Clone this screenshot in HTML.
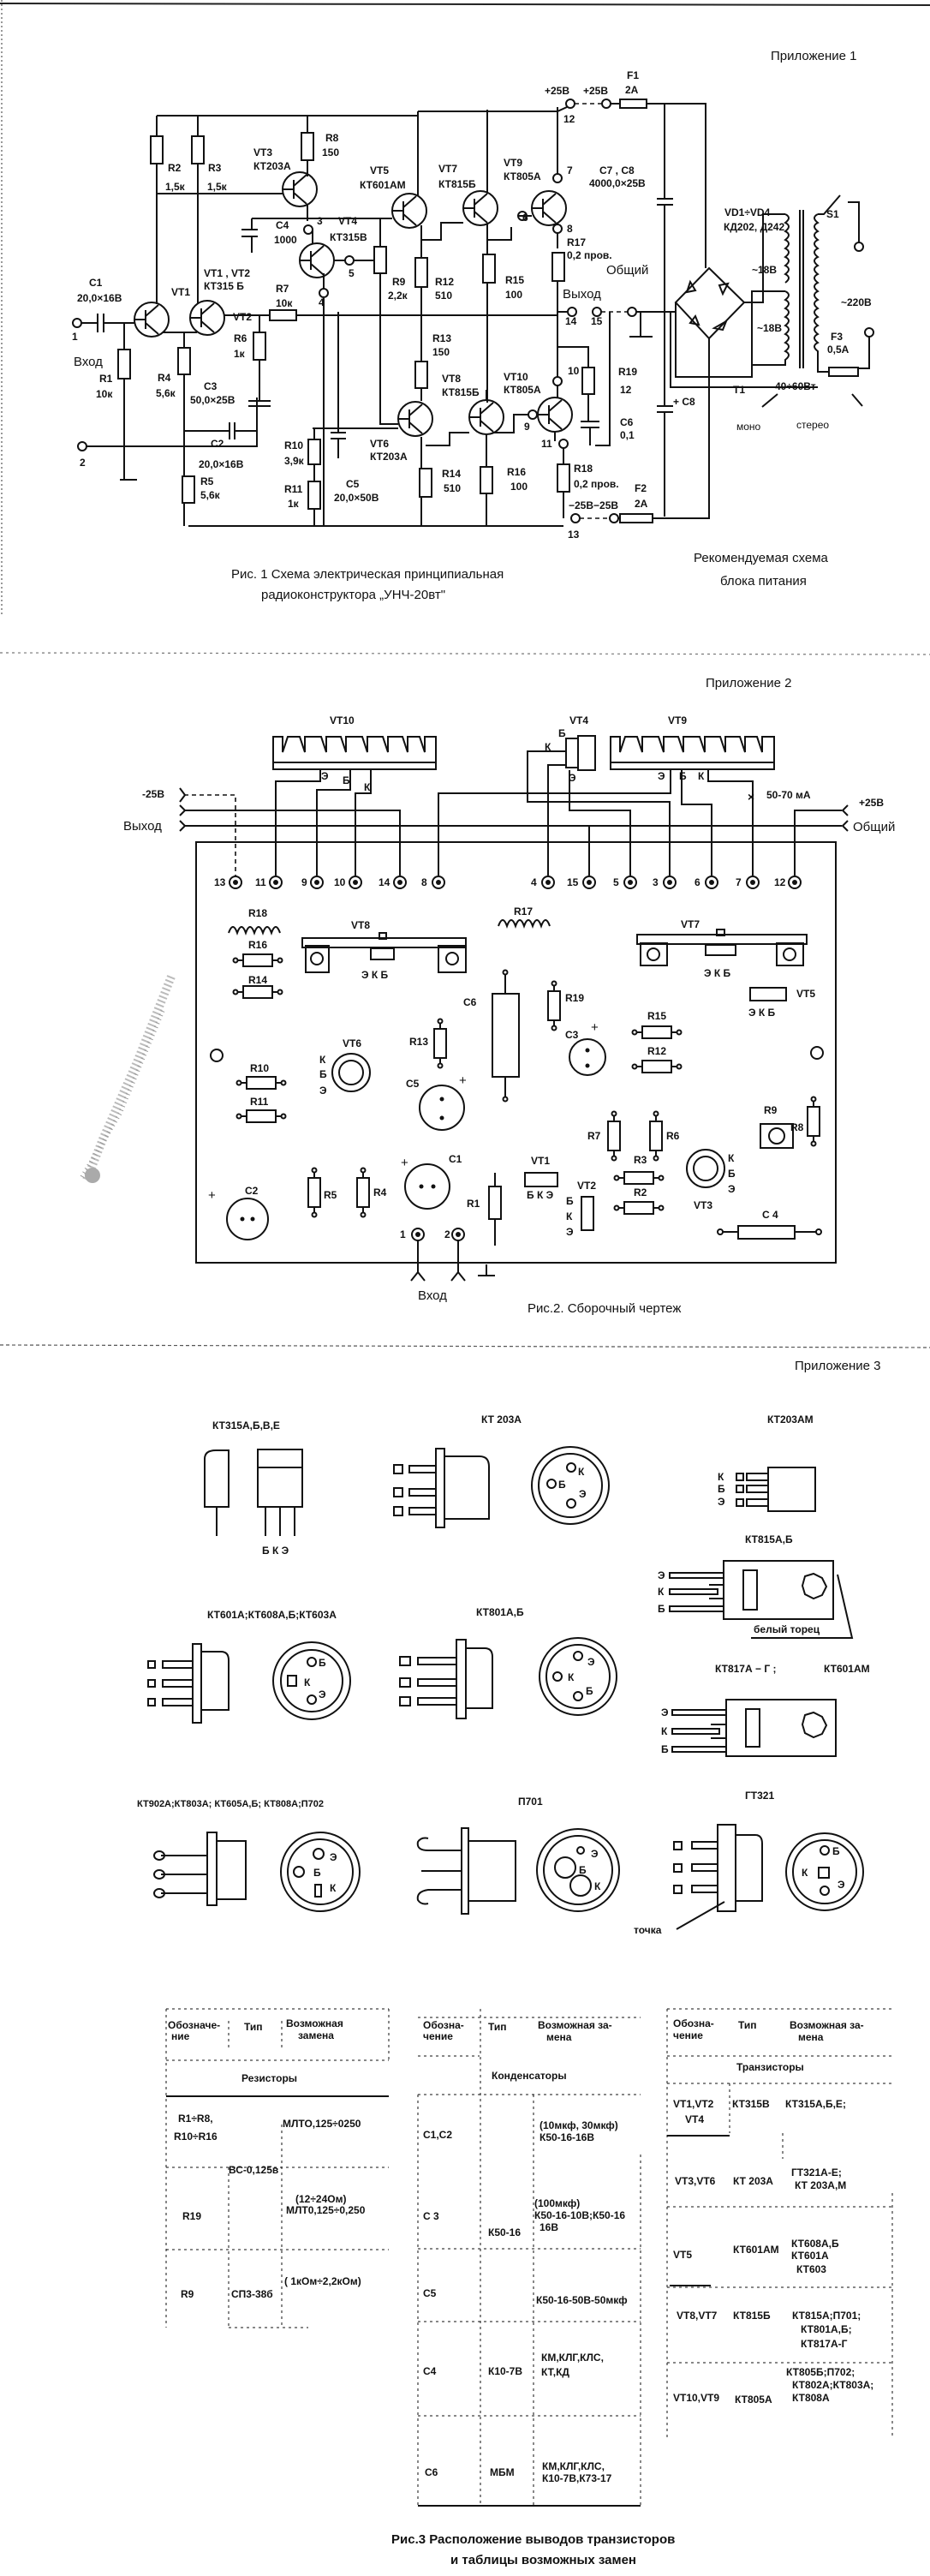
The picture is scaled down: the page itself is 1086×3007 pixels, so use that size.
<!DOCTYPE html>
<html><head><meta charset="utf-8"><style>
html,body{margin:0;padding:0;background:#fff}
svg{display:block}
text{font-family:"Liberation Sans Narrow","Liberation Sans","DejaVu Sans",sans-serif;font-size:12px;fill:#111;font-weight:bold}
.s{fill:none;stroke:#111;stroke-width:2}
.d{fill:none;stroke:#111;stroke-width:1.6;stroke-dasharray:5 4}
.r{fill:#fff;stroke:#111;stroke-width:2}
.big{font-size:15px;font-weight:normal}
</style></head><body>
<svg width="1086" height="3007" viewBox="0 0 1086 3007" xmlns="http://www.w3.org/2000/svg">
<defs>
<g id="tr" class="s"><circle r="20"/><line x1="-20" y1="0" x2="-7" y2="0"/><line x1="-7" y1="-11" x2="-7" y2="11"/><line x1="-7" y1="-4" x2="8" y2="-17"/><line x1="-7" y1="4" x2="8" y2="17"/></g>
<g id="rv"><rect x="-7" y="-16" width="14" height="32" class="r"/></g>
<g id="rh"><line x1="-26" y1="0" x2="26" y2="0" class="s"/><rect x="-17" y="-7" width="34" height="14" class="r"/><circle cx="-26" cy="0" r="2.5" class="r"/><circle cx="26" cy="0" r="2.5" class="r"/></g>
<g id="rb"><line x1="0" y1="-26" x2="0" y2="26" class="s"/><rect x="-7" y="-17" width="14" height="34" class="r"/><circle cx="0" cy="-26" r="2.5" class="r"/><circle cx="0" cy="26" r="2.5" class="r"/></g>
<g id="pin"><circle r="7" class="r"/><circle r="3" fill="#111"/></g>
</defs>
<rect width="1086" height="3007" fill="#fff"/>
<line x1="0" y1="4" x2="1086" y2="6" stroke="#222" stroke-width="2"/>
<line x1="2" y1="0" x2="2" y2="720" stroke="#999" stroke-width="2" stroke-dasharray="2 3"/>
<path d="M200,1140 L160,1240 L120,1330 L100,1380" stroke="#bbb" stroke-width="10" fill="none" stroke-dasharray="2 3"/>
<path d="M190,1180 L140,1300 L95,1375" stroke="#999" stroke-width="5" fill="none" stroke-dasharray="1 4"/>
<circle cx="108" cy="1372" r="9" fill="#aaa"/>

<!-- ===== Section 1 ===== -->
<text x="900" y="70" class="big">Приложение 1</text>
<path class="s" d="M183,135 H488 M488,130 H651 L662,125"/>
<circle cx="666" cy="121" r="5" class="r"/><line class="d" x1="671" y1="121" x2="703" y2="121"/><circle cx="708" cy="121" r="5" class="r"/>
<line class="s" x1="713" y1="121" x2="724" y2="121"/><rect x="724" y="116" width="31" height="10" class="r"/>
<path class="s" d="M755,121 H824 V313 M776,121 V232 M767,232 H786 M767,239 H786 M776,239 V362 M776,362 V474 M767,474 H786 M767,481 H786 M776,481 V603"/>
<path class="s" d="M220,614 H658"/><circle cx="672" cy="605" r="5" class="r"/><line class="d" x1="677" y1="605" x2="712" y2="605"/><circle cx="717" cy="605" r="5" class="r"/>
<line class="s" x1="722" y1="605" x2="724" y2="605"/><rect x="724" y="600" width="38" height="10" class="r"/>
<path class="s" d="M762,605 H828 V395"/>
<path class="s" d="M183,135 V158 M183,192 V355 M231,135 V158 M231,192 V355 M183,226 H330 M359,135 V154 M359,187 V206 M488,130 V228 M569,128 V226 M651,125 V205"/>
<use href="#rv" x="183" y="175"/><use href="#rv" x="231" y="175"/><use href="#rv" x="359" y="171"/>
<use href="#tr" x="350" y="221"/><use href="#tr" x="478" y="246"/><use href="#tr" x="561" y="243"/><use href="#tr" x="641" y="243"/>
<use href="#tr" x="370" y="304"/><use href="#tr" x="177" y="373"/><use href="#tr" x="242" y="371"/>
<use href="#tr" x="485" y="489"/><use href="#tr" x="568" y="487"/><use href="#tr" x="648" y="484"/>
<path class="s" d="M359,238 V258 M294,255 H458 M294,255 V268 M282,268 H301 M282,276 H301 M294,276 V295 M444,255 V288 M444,319 V495 H465 M365,268 V285 M378,319 V337 M378,348 V614 M395,364 V505 M386,505 H404 M386,512 H404 M395,512 V535"/>
<circle cx="360" cy="268" r="5" class="r"/><circle cx="378" cy="342" r="5" class="r"/><circle cx="408" cy="304" r="5" class="r"/>
<path class="s" d="M390,304 H403 M413,304 H437"/>
<rect x="437" y="288" width="14" height="31" class="r"/><rect x="485" y="301" width="14" height="34" class="r"/><rect x="564" y="297" width="14" height="33" class="r"/><rect x="645" y="295" width="14" height="33" class="r"/>
<path class="s" d="M492,263 V301 M492,335 V422 M492,280 H515 V260 H541 M569,260 V297 M569,330 V470 M569,280 H597 V265 M651,260 V290 M651,328 V465"/>
<circle cx="610" cy="252" r="5" class="r"/><path class="s" d="M605,252 H621"/>
<circle cx="651" cy="208" r="5" class="r"/><circle cx="651" cy="267" r="5" class="r"/>
<path class="s" d="M262,368 H315 M346,368 H651 M651,364 H662"/>
<rect x="315" y="362" width="31" height="12" class="r"/>
<circle cx="668" cy="364" r="5" class="r"/><circle cx="697" cy="364" r="5" class="r"/><line class="d" x1="702" y1="364" x2="735" y2="364"/><circle cx="738" cy="364" r="5" class="r"/>
<path class="s" d="M743,364 H789 M748,364 V392 M735,393 H762 M712,364 V520 H695"/>
<circle cx="90" cy="377" r="5" class="r"/><path class="s" d="M95,377 H114 M114,366 V388 M121,366 V388 M121,377 H157 M145,377 V408 M145,442 V560 M140,560 H160 M101,521 H300 V464"/>
<rect x="138" y="408" width="14" height="34" class="r"/>
<circle cx="96" cy="521" r="5" class="r"/>
<path class="s" d="M190,388 H230 M215,388 V406 M215,437 V614 M215,503 H268 M268,493 V513 M274,493 V513 M274,503 H300 M303,368 V388 M303,420 V468 M290,468 H316 M290,474 H316"/>
<rect x="208" y="406" width="14" height="31" class="r"/><rect x="296" y="388" width="14" height="32" class="r"/><rect x="213" y="556" width="14" height="31" class="r"/>
<path class="s" d="M365,500 H465 M367,500 V513 M367,542 V562 M367,594 V614 M492,453 V468 M492,510 V547 M492,580 V614 M497,520 H525 V505 H548 M575,505 H600 V484 H628 M648,504 V515 M658,520 V542 M658,574 V605 M651,405 V465 M651,405 H687 V429 M687,460 V492 M678,492 H700 M678,499 H700 M689,499 V520 M568,455 V468 M568,507 V545 M568,576 V614"/>
<rect x="360" y="513" width="14" height="29" class="r"/><rect x="360" y="562" width="14" height="32" class="r"/><rect x="485" y="422" width="14" height="31" class="r"/>
<rect x="490" y="547" width="14" height="33" class="r"/><rect x="561" y="545" width="14" height="31" class="r"/><rect x="651" y="542" width="14" height="32" class="r"/><rect x="680" y="429" width="14" height="31" class="r"/>
<circle cx="651" cy="445" r="5" class="r"/><circle cx="658" cy="518" r="5" class="r"/><circle cx="622" cy="484" r="5" class="r"/>
<path class="s" d="M828,313 L869,353 L828,395 L789,353 Z M869,353 H891 V250 H917 M789,353 V440 H878 V340 H917 M783,364 V452 H955"/>
<path class="s" d="M806,329 l6,10 l-10,2 z M850,331 l-10,2 l4,10 z M806,377 l10,2 l-4,-10z M848,375 l-4,10 l-10,-2z"/>
<path class="s" d="M917,250 q8,4 0,10 q8,4 0,10 q8,4 0,10 q8,4 0,10 q8,4 0,10 q8,4 0,10 q8,4 0,10 q8,4 0,10 M917,340 q8,4 0,10 q8,4 0,10 q8,4 0,10 q8,4 0,10 q8,4 0,10 q8,4 0,10 q8,4 0,10 q8,4 0,10 V426 H878"/>
<path class="s" d="M934,245 V430 M938,245 V430 M955,250 q-8,4 0,10 q-8,4 0,10 q-8,4 0,10 q-8,4 0,10 q-8,4 0,10 q-8,4 0,10 q-8,4 0,10 q-8,4 0,10 q-8,4 0,10 q-8,4 0,10 q-8,4 0,10 q-8,4 0,10 q-8,4 0,10 q-8,4 0,10 q-8,4 0,10 q-8,4 0,10 V434 H968"/>
<path class="s" d="M955,250 H962 L981,228 M990,236 H1003 V283 M1003,430 H1015 V393"/>
<circle cx="1003" cy="288" r="5" class="r"/><circle cx="1015" cy="388" r="5" class="r"/>
<rect x="968" y="429" width="34" height="10" class="r"/>
<path class="s" d="M890,475 l18,-15 M995,460 l12,14"/>
<text x="636" y="110">+25В</text><text x="681" y="110">+25В</text><text x="732" y="92">F1</text><text x="730" y="109">2А</text><text x="658" y="143">12</text>
<text x="380" y="165">R8</text><text x="376" y="182">150</text>
<text x="296" y="182">VT3</text><text x="296" y="198">КТ203А</text>
<text x="196" y="200">R2</text><text x="193" y="222">1,5к</text><text x="243" y="200">R3</text><text x="242" y="222">1,5к</text>
<text x="432" y="203">VT5</text><text x="420" y="220">КТ601АМ</text>
<text x="512" y="201">VT7</text><text x="512" y="219">КТ815Б</text>
<text x="588" y="194">VT9</text><text x="588" y="210">КТ805А</text>
<text x="662" y="203">7</text><text x="700" y="203">C7 , C8</text><text x="688" y="218">4000,0×25В</text>
<text x="322" y="267">C4</text><text x="320" y="284">1000</text><text x="370" y="262">3</text><text x="395" y="262">VT4</text><text x="385" y="281">КТ315В</text>
<text x="610" y="258">6</text><text x="662" y="271">8</text><text x="662" y="287">R17</text><text x="662" y="302">0,2 пров.</text>
<text x="846" y="252">VD1÷VD4</text><text x="845" y="269">КД202, Д242</text><text x="965" y="254">S1</text>
<text x="407" y="323">5</text><text x="708" y="320" class="big">Общий</text><text x="878" y="319">~18В</text><text x="982" y="357">~220В</text>
<text x="238" y="323">VT1 , VT2</text><text x="238" y="338">КТ315 Б</text><text x="200" y="345">VT1</text>
<text x="458" y="333">R9</text><text x="453" y="349">2,2к</text><text x="508" y="333">R12</text><text x="508" y="349">510</text><text x="590" y="331">R15</text><text x="590" y="348">100</text>
<text x="657" y="348" class="big">Выход</text><text x="104" y="334">C1</text><text x="90" y="352">20,0×16В</text><text x="322" y="341">R7</text><text x="322" y="358">10к</text><text x="372" y="357">4</text><text x="272" y="374">VT2</text>
<text x="660" y="379">14</text><text x="690" y="379">15</text><text x="884" y="387">~18В</text>
<text x="273" y="399">R6</text><text x="273" y="417">1к</text><text x="505" y="399">R13</text><text x="505" y="415">150</text><text x="86" y="427" class="big">Вход</text>
<text x="970" y="397">F3</text><text x="966" y="412">0,5А</text>
<text x="116" y="446">R1</text><text x="112" y="464">10к</text><text x="184" y="445">R4</text><text x="182" y="463">5,6к</text><text x="238" y="455">C3</text><text x="222" y="471">50,0×25В</text>
<text x="663" y="437">10</text><text x="722" y="438">R19</text><text x="724" y="459">12</text><text x="516" y="446">VT8</text><text x="516" y="462">КТ815Б</text><text x="588" y="444">VT10</text><text x="588" y="459">КТ805А</text>
<text x="856" y="459">Т1</text><text x="905" y="455">40÷60Вт</text><text x="786" y="473">+ С8</text><text x="724" y="497">C6</text><text x="724" y="512">0,1</text><text x="612" y="502">9</text>
<text x="860" y="502" style="font-weight:normal">моно</text><text x="930" y="500" style="font-weight:normal">стерео</text><text x="632" y="522">11</text>
<text x="246" y="522">C2</text><text x="232" y="546">20,0×16В</text><text x="93" y="544">2</text><text x="84" y="397">1</text><text x="332" y="524">R10</text><text x="332" y="542">3,9к</text><text x="432" y="522">VT6</text><text x="432" y="537">КТ203А</text>
<text x="516" y="557">R14</text><text x="518" y="574">510</text><text x="592" y="555">R16</text><text x="596" y="572">100</text><text x="670" y="551">R18</text><text x="670" y="569">0,2 пров.</text>
<text x="741" y="574">F2</text><text x="741" y="592">2А</text><text x="664" y="594">−25В−25В</text><text x="663" y="628">13</text>
<text x="332" y="575">R11</text><text x="336" y="592">1к</text><text x="404" y="569">C5</text><text x="390" y="585">20,0×50В</text><text x="234" y="566">R5</text><text x="234" y="582">5,6к</text>
<text x="270" y="675" class="big">Рис. 1 Схема электрическая принципиальная</text>
<text x="305" y="699" class="big">радиоконструктора „УНЧ-20вт"</text>
<text x="810" y="656" class="big">Рекомендуемая схема</text><text x="841" y="683" class="big">блока питания</text>

<!-- ===== Section 2 ===== -->
<line x1="0" y1="762" x2="1086" y2="764" stroke="#777" stroke-width="1.2" stroke-dasharray="3 4"/>
<text x="824" y="802" class="big">Приложение 2</text>
<text x="385" y="845">VT10</text><text x="665" y="845">VT4</text><text x="780" y="845">VT9</text>
<path class="s" d="M319,898 V860 H330 V878 L336,860 H350 L356,878 V860 H375 L381,878 V860 H398 L404,878 V860 H423 L429,878 V860 H447 L453,878 V860 H470 L476,878 V860 H490 L496,878 V860 H509 V898 Z M319,890 H509"/>
<path class="s" d="M713,898 V860 H724 V878 L730,860 H744 L750,878 V860 H769 L775,878 V860 H792 L798,878 V860 H817 L823,878 V860 H841 L847,878 V860 H864 L870,878 V860 H884 L890,878 V860 H904 V898 Z M713,890 H904"/>
<rect x="661" y="862" width="14" height="34" class="r"/><rect x="675" y="859" width="20" height="40" class="r"/>
<text x="652" y="860">Б</text><text x="636" y="876">К</text><text x="664" y="912">Э</text>
<text x="375" y="910">Э</text><text x="400" y="915">Б</text><text x="425" y="923">К</text><text x="768" y="910">Э</text><text x="793" y="910">Б</text><text x="815" y="910">К</text>
<path class="s" d="M374,898 V912 H322 V1022 M409,898 V922 H370 V1022 M433,898 V926 H415 V1022 M215,946 H467 V1022 M215,964 H983 M688,964 V1022 M783,898 V926 H512 V1022 M661,877 H616 V936 H782 V1022 M661,893 H640 V1022 M665,899 V946 H736 V1022 M796,898 V939 H831 V1022 M827,898 V912 H879 V1022 M928,1022 V946 H983"/>
<path class="d" d="M215,928 H275 V1022"/>
<text x="873" y="935" style="font-size:14px">×</text><text x="895" y="932">50-70 мА</text>
<path class="s" d="M210,920 l6,8 l-6,8 M210,940 l6,6 l-6,6 M210,958 l6,6 l-6,6 M990,940 l-6,6 l6,6 M990,958 l-6,6 l6,6"/>
<text x="166" y="931">-25В</text><text x="144" y="969" class="big">Выход</text><text x="1003" y="941">+25В</text><text x="996" y="970" class="big">Общий</text>
<rect x="229" y="983" width="747" height="491" class="s"/>
<use href="#pin" x="275" y="1030"/><use href="#pin" x="322" y="1030"/><use href="#pin" x="370" y="1030"/><use href="#pin" x="415" y="1030"/><use href="#pin" x="467" y="1030"/><use href="#pin" x="512" y="1030"/>
<use href="#pin" x="640" y="1030"/><use href="#pin" x="688" y="1030"/><use href="#pin" x="736" y="1030"/><use href="#pin" x="782" y="1030"/><use href="#pin" x="831" y="1030"/><use href="#pin" x="879" y="1030"/><use href="#pin" x="928" y="1030"/>
<text x="250" y="1034">13</text><text x="298" y="1034">11</text><text x="352" y="1034">9</text><text x="390" y="1034">10</text><text x="442" y="1034">14</text><text x="492" y="1034">8</text>
<text x="620" y="1034">4</text><text x="662" y="1034">15</text><text x="716" y="1034">5</text><text x="762" y="1034">3</text><text x="811" y="1034">6</text><text x="859" y="1034">7</text><text x="904" y="1034">12</text>
<path class="s" d="M267,1089 q5,-14 10,0 q5,-14 10,0 q5,-14 10,0 q5,-14 10,0 q5,-14 10,0 q5,-14 10,0"/><text x="290" y="1070">R18</text>
<use href="#rh" x="301" y="1121"/><text x="290" y="1107">R16</text>
<use href="#rh" x="301" y="1158"/><text x="290" y="1148">R14</text>
<rect x="353" y="1095" width="191" height="11" class="s"/><rect x="357" y="1104" width="27" height="31" class="s"/><rect x="512" y="1104" width="32" height="31" class="s"/><circle cx="370" cy="1119" r="7" class="s"/><circle cx="528" cy="1119" r="7" class="s"/>
<rect x="433" y="1107" width="27" height="13" class="r"/><rect x="443" y="1089" width="8" height="7" class="s"/><text x="410" y="1084">VT8</text><text x="422" y="1142">Э К Б</text>
<path class="s" d="M582,1081 q5,-14 10,0 q5,-14 10,0 q5,-14 10,0 q5,-14 10,0 q5,-14 10,0 q5,-14 10,0"/><text x="600" y="1068">R17</text>
<rect x="744" y="1091" width="198" height="11" class="s"/><rect x="748" y="1101" width="31" height="26" class="s"/><rect x="907" y="1101" width="31" height="26" class="s"/><circle cx="763" cy="1114" r="7" class="s"/><circle cx="922" cy="1114" r="7" class="s"/>
<rect x="824" y="1103" width="35" height="12" class="r"/><rect x="837" y="1085" width="9" height="7" class="s"/><text x="795" y="1083">VT7</text><text x="822" y="1140">Э К Б</text>
<rect x="876" y="1153" width="42" height="15" class="r"/><text x="930" y="1164">VT5</text><text x="874" y="1186">Э К Б</text>
<path class="s" d="M590,1135 V1283"/><rect x="575" y="1160" width="31" height="97" class="r"/><circle cx="590" cy="1135" r="2.5" class="r"/><circle cx="590" cy="1283" r="2.5" class="r"/><text x="541" y="1174">C6</text>
<use href="#rb" x="647" y="1174"/><text x="660" y="1169">R19</text>
<use href="#rb" x="514" y="1218"/><text x="478" y="1220">R13</text>
<circle cx="686" cy="1234" r="21" class="s"/><circle cx="686" cy="1226" r="2.5" fill="#111"/><circle cx="686" cy="1244" r="2.5" fill="#111"/><text x="660" y="1212">C3</text><text x="690" y="1204" class="big">+</text>
<use href="#rh" x="767" y="1205"/><text x="756" y="1190">R15</text><use href="#rh" x="767" y="1245"/><text x="756" y="1231">R12</text>
<circle cx="253" cy="1232" r="7" class="s"/><circle cx="954" cy="1229" r="7" class="s"/>
<circle cx="410" cy="1252" r="22" class="s"/><circle cx="410" cy="1252" r="14" class="s"/><text x="400" y="1222">VT6</text><text x="373" y="1241">К</text><text x="373" y="1258">Б</text><text x="373" y="1277">Э</text>
<circle cx="516" cy="1293" r="26" class="s"/><circle cx="516" cy="1283" r="2.5" fill="#111"/><circle cx="516" cy="1305" r="2.5" fill="#111"/><text x="474" y="1269">C5</text><text x="536" y="1266" class="big">+</text>
<use href="#rh" x="305" y="1264"/><text x="292" y="1251">R10</text><use href="#rh" x="305" y="1303"/><text x="292" y="1290">R11</text>
<use href="#rb" x="717" y="1326"/><text x="686" y="1330">R7</text><use href="#rb" x="766" y="1326"/><text x="778" y="1330">R6</text>
<use href="#rh" x="746" y="1375"/><text x="740" y="1358">R3</text><use href="#rh" x="746" y="1410"/><text x="740" y="1396">R2</text>
<circle cx="824" cy="1364" r="22" class="s"/><circle cx="824" cy="1364" r="14" class="s"/><text x="850" y="1356">К</text><text x="850" y="1374">Б</text><text x="850" y="1392">Э</text><text x="810" y="1411">VT3</text>
<rect x="888" y="1312" width="38" height="28" class="s"/><circle cx="907" cy="1326" r="9" class="s"/><text x="892" y="1300">R9</text>
<use href="#rb" x="950" y="1309"/><text x="923" y="1320">R8</text>
<line x1="841" y1="1438" x2="956" y2="1438" class="s"/><rect x="862" y="1431" width="66" height="15" class="r"/><circle cx="841" cy="1438" r="3" class="r"/><circle cx="956" cy="1438" r="3" class="r"/><text x="890" y="1422">C 4</text>
<rect x="613" y="1369" width="38" height="16" class="r"/><text x="620" y="1359">VT1</text><text x="615" y="1399">Б К Э</text>
<rect x="679" y="1397" width="14" height="39" class="r"/><text x="674" y="1388">VT2</text><text x="661" y="1406">Б</text><text x="661" y="1424">К</text><text x="661" y="1442">Э</text>
<path class="s" d="M578,1369 V1454"/><rect x="571" y="1385" width="14" height="38" class="r"/><text x="545" y="1409">R1</text>
<circle cx="499" cy="1385" r="26" class="s"/><circle cx="492" cy="1385" r="2.5" fill="#111"/><circle cx="506" cy="1385" r="2.5" fill="#111"/><text x="524" y="1357">C1</text><text x="468" y="1362" class="big">+</text>
<use href="#rb" x="367" y="1392"/><text x="378" y="1399">R5</text><use href="#rb" x="424" y="1392"/><text x="436" y="1396">R4</text>
<circle cx="289" cy="1423" r="24" class="s"/><circle cx="283" cy="1423" r="2.5" fill="#111"/><circle cx="295" cy="1423" r="2.5" fill="#111"/><text x="286" y="1394">C2</text><text x="243" y="1400" class="big">+</text>
<use href="#pin" x="488" y="1441"/><use href="#pin" x="535" y="1441"/><text x="467" y="1445">1</text><text x="519" y="1445">2</text>
<path class="s" d="M488,1448 V1485 l-8,10 M488,1485 l8,10 M535,1448 V1485 l-8,10 M535,1485 l8,10 M568,1476 V1489 M558,1489 H578"/>
<text x="488" y="1517" class="big">Вход</text>
<text x="616" y="1532" class="big">Рис.2.  Сборочный   чертеж</text>

<!-- ===== Section 3 ===== -->
<line x1="0" y1="1570" x2="1086" y2="1573" stroke="#555" stroke-width="1.2" stroke-dasharray="4 3"/>
<text x="928" y="1599" class="big">Приложение 3</text>
<text x="248" y="1668">КТ315А,Б,В,Е</text><text x="562" y="1661">КТ 203А</text><text x="896" y="1661">КТ203АМ</text>
<path class="s" d="M239,1759 V1703 Q239,1693 252,1693 H267 V1759 Z M253,1759 V1793"/>
<rect x="301" y="1692" width="52" height="67" class="s"/><line x1="301" y1="1713" x2="353" y2="1713" class="s"/><path class="s" d="M310,1759 V1793 M327,1759 V1793 M344,1759 V1793"/><text x="306" y="1814">Б К Э</text>
<rect x="509" y="1691" width="10" height="92" class="s"/><path class="s" d="M519,1700 H560 Q571,1700 571,1712 V1773 H519"/>
<path class="s" d="M478,1711 H509 V1719 H478 Z M478,1738 H509 V1746 H478 Z M478,1760 H509 V1768 H478 Z"/><rect x="460" y="1710" width="10" height="10" class="s"/><rect x="460" y="1737" width="10" height="10" class="s"/><rect x="460" y="1759" width="10" height="10" class="s"/>
<circle cx="666" cy="1734" r="45" class="s"/><circle cx="666" cy="1734" r="37" class="s"/><circle cx="667" cy="1713" r="5" class="s"/><circle cx="644" cy="1732" r="5" class="s"/><circle cx="667" cy="1755" r="5" class="s"/><text x="675" y="1722">К</text><text x="652" y="1737">Б</text><text x="676" y="1748">Э</text>
<rect x="897" y="1713" width="55" height="51" class="s"/><path class="s" d="M872,1720 H897 V1728 H872Z M872,1734 H897 V1742 H872Z M872,1750 H897 V1758 H872Z"/><rect x="860" y="1720" width="8" height="8" class="s"/><rect x="860" y="1734" width="8" height="8" class="s"/><rect x="860" y="1750" width="8" height="8" class="s"/>
<text x="838" y="1728">К</text><text x="838" y="1742">Б</text><text x="838" y="1757">Э</text>
<text x="870" y="1801">КТ815А,Б</text>
<rect x="845" y="1822" width="128" height="68" class="s"/><rect x="868" y="1833" width="16" height="46" class="s"/><path class="s" d="M940,1840 l10,-3 l10,5 l5,10 l-5,10 l-10,4 l-10,-5 l-3,-10 z"/>
<path class="s" d="M782,1836 H845 V1842 H782Z M782,1855 H838 V1861 H782Z M782,1875 H845 V1881 H782Z M828,1850 H845 V1866 H828"/><text x="768" y="1843">Э</text><text x="768" y="1862">К</text><text x="768" y="1882">Б</text>
<text x="880" y="1906">белый  торец</text><path class="s" d="M877,1912 H995 L978,1838"/>
<text x="242" y="1889">КТ601А;КТ608А,Б;КТ603А</text><text x="556" y="1886">КТ801А,Б</text>
<rect x="225" y="1919" width="10" height="92" class="s"/><path class="s" d="M235,1928 H258 Q267,1928 267,1938 V1996 H235"/>
<path class="s" d="M190,1939 H225 V1947 H190Z M190,1961 H225 V1969 H190Z M190,1983 H225 V1991 H190Z"/><rect x="173" y="1939" width="8" height="8" class="s"/><rect x="173" y="1961" width="8" height="8" class="s"/><rect x="173" y="1983" width="8" height="8" class="s"/>
<circle cx="364" cy="1962" r="45" class="s"/><circle cx="364" cy="1962" r="36" class="s"/><circle cx="364" cy="1940" r="5" class="s"/><circle cx="364" cy="1984" r="5" class="s"/><rect x="336" y="1956" width="10" height="12" class="s"/><text x="372" y="1945">Б</text><text x="355" y="1968">К</text><text x="372" y="1982">Э</text>
<rect x="533" y="1914" width="11" height="92" class="s"/><path class="s" d="M544,1924 H566 Q575,1924 575,1934 V1994 H544"/>
<path class="s" d="M488,1935 H533 V1943 H488Z M488,1960 H533 V1968 H488Z M488,1982 H533 V1990 H488Z"/><rect x="467" y="1934" width="12" height="10" class="s"/><rect x="467" y="1959" width="12" height="10" class="s"/><rect x="467" y="1981" width="12" height="10" class="s"/>
<circle cx="675" cy="1957" r="45" class="s"/><circle cx="675" cy="1957" r="37" class="s"/><circle cx="675" cy="1933" r="5" class="s"/><circle cx="651" cy="1957" r="5" class="s"/><circle cx="675" cy="1980" r="5" class="s"/><text x="686" y="1944">Э</text><text x="663" y="1962">К</text><text x="684" y="1978">Б</text>
<text x="835" y="1952">КТ817А − Г ;</text><text x="962" y="1952">КТ601АМ</text>
<rect x="848" y="1984" width="128" height="66" class="s"/><rect x="871" y="1995" width="16" height="44" class="s"/><path class="s" d="M940,2002 l10,-3 l10,5 l5,10 l-5,10 l-10,4 l-10,-5 l-3,-10 z"/>
<path class="s" d="M785,1996 H848 V2002 H785Z M785,2018 H840 V2024 H785Z M785,2039 H848 V2045 H785Z M830,2013 H848 V2029 H830"/><text x="772" y="2003">Э</text><text x="772" y="2025">К</text><text x="772" y="2046">Б</text>
<text x="160" y="2109" style="font-size:11px">КТ902А;КТ803А; КТ605А,Б; КТ808А;П702</text><text x="605" y="2107">П701</text><text x="870" y="2100">ГТ321</text>
<rect x="242" y="2139" width="11" height="85" class="s"/><rect x="253" y="2149" width="34" height="68" class="s"/>
<path class="s" d="M188,2166 H242 M188,2188 H242 M188,2210 H242"/><ellipse cx="186" cy="2166" rx="6" ry="5" class="s"/><ellipse cx="186" cy="2188" rx="6" ry="5" class="s"/><ellipse cx="186" cy="2210" rx="6" ry="5" class="s"/>
<circle cx="374" cy="2185" r="46" class="s"/><circle cx="374" cy="2185" r="38" class="s"/><circle cx="372" cy="2164" r="6" class="s"/><circle cx="349" cy="2185" r="6" class="s"/><rect x="368" y="2200" width="7" height="14" class="s"/><text x="385" y="2172">Э</text><text x="366" y="2190">Б</text><text x="385" y="2208">К</text>
<rect x="539" y="2134" width="8" height="100" class="s"/><rect x="547" y="2149" width="55" height="70" class="s"/>
<path class="s" d="M539,2160 H500 Q486,2160 488,2150 Q492,2144 500,2146 M539,2184 H492 M539,2206 H500 Q486,2208 488,2218 Q492,2224 500,2222"/>
<circle cx="675" cy="2183" r="48" class="s"/><circle cx="675" cy="2183" r="40" class="s"/><circle cx="660" cy="2180" r="12" class="s"/><circle cx="678" cy="2201" r="12" class="s"/><circle cx="678" cy="2160" r="4" class="s"/><text x="690" y="2168">Э</text><text x="676" y="2187">Б</text><text x="694" y="2206">К</text>
<rect x="838" y="2130" width="21" height="101" class="s"/><path class="s" d="M859,2142 H882 Q890,2142 890,2152 V2219 H859"/>
<path class="s" d="M808,2150 H838 V2158 H808Z M808,2176 H838 V2184 H808Z M808,2201 H838 V2209 H808Z"/><rect x="787" y="2150" width="9" height="9" class="s"/><rect x="787" y="2176" width="9" height="9" class="s"/><rect x="787" y="2201" width="9" height="9" class="s"/>
<circle cx="963" cy="2185" r="45" class="s"/><circle cx="963" cy="2185" r="37" class="s"/><circle cx="963" cy="2160" r="5" class="s"/><circle cx="963" cy="2207" r="5" class="s"/><rect x="956" y="2180" width="12" height="12" class="s"/><text x="972" y="2165">Б</text><text x="936" y="2190">К</text><text x="978" y="2204">Э</text>
<text x="740" y="2257">точка</text><path class="s" d="M790,2252 L846,2220"/>

<!-- ===== Tables ===== -->
<g class="d" style="stroke-width:1;stroke-dasharray:3 4">
<path d="M194,2345 H454 M194,2345 V2717 M454,2345 V2405 M267,2359 V2390 M329,2359 V2390 M194,2405 H454 M194,2530 H454 M194,2626 H454 M267,2530 V2717 M329,2480 V2717 M267,2717 H360"/>
<path d="M488,2355 H748 M488,2400 H560 M488,2445 H748 M561,2345 V2925 M623,2445 V2925 M748,2515 V2925 M488,2625 H748 M488,2710 H748 M488,2820 H748 M488,2445 V2925"/>
<path d="M779,2345 H1042 M779,2345 V2846 M779,2400 H1042 M779,2432 H1042 M852,2432 V2490 M914,2490 V2520 M779,2576 H1042 M779,2670 H1042 M779,2758 H1042 M1042,2560 V2846"/>
</g>
<path class="s" d="M194,2447 H454 M488,2925 H748 M779,2493 H852 M782,2668 H830"/>
<g style="font-size:11px">
<text x="196" y="2368">Обозначе-</text><text x="200" y="2381">ние</text><text x="285" y="2370">Тип</text><text x="334" y="2366">Возможная</text><text x="348" y="2380">замена</text>
<text x="282" y="2430">Резисторы</text>
<text x="208" y="2477">R1÷R8,</text><text x="203" y="2498">R10÷R16</text><text x="330" y="2483">МЛТО,125÷0250</text><text x="267" y="2537">ВС-0,125в</text>
<text x="345" y="2571">(12÷24Ом)</text><text x="334" y="2584">МЛТ0,125÷0,250</text><text x="213" y="2591">R19</text>
<text x="211" y="2682">R9</text><text x="270" y="2682">СП3-38б</text><text x="332" y="2667">( 1кОм÷2,2кОм)</text>
<text x="494" y="2368">Обозна-</text><text x="494" y="2381">чение</text><text x="570" y="2370">Тип</text><text x="628" y="2368">Возможная за-</text><text x="638" y="2382">мена</text>
<text x="574" y="2427">Конденсаторы</text>
<text x="494" y="2496">C1,C2</text><text x="630" y="2485">(10мкф, 30мкф)</text><text x="630" y="2499">К50-16-16В</text>
<text x="494" y="2591">C 3</text><text x="624" y="2576">(100мкф)</text><text x="624" y="2590">К50-16-10В;К50-16</text><text x="630" y="2604">16В</text><text x="570" y="2610">К50-16</text>
<text x="494" y="2681">C5</text><text x="626" y="2689">К50-16-50В-50мкф</text>
<text x="494" y="2772">C4</text><text x="570" y="2772">К10-7В</text><text x="632" y="2756">КМ,КЛГ,КЛС,</text><text x="632" y="2773">КТ,КД</text>
<text x="496" y="2890">C6</text><text x="572" y="2890">МБМ</text><text x="633" y="2883">КМ,КЛГ,КЛС,</text><text x="633" y="2897">К10-7В,К73-17</text>
<text x="786" y="2366">Обозна-</text><text x="786" y="2380">чение</text><text x="862" y="2368">Тип</text><text x="922" y="2368">Возможная за-</text><text x="932" y="2382">мена</text>
<text x="860" y="2417">Транзисторы</text>
<text x="786" y="2460">VT1,VT2</text><text x="800" y="2478">VT4</text><text x="855" y="2460">КТ315В</text><text x="917" y="2460">КТ315А,Б,Е;</text>
<text x="788" y="2550">VT3,VT6</text><text x="856" y="2550">КТ 203А</text><text x="924" y="2540">ГТ321А-Е;</text><text x="928" y="2555">КТ 203А,М</text>
<text x="786" y="2636">VT5</text><text x="856" y="2630">КТ601АМ</text><text x="924" y="2623">КТ608А,Б</text><text x="924" y="2637">КТ601А</text><text x="930" y="2653">КТ603</text>
<text x="790" y="2707">VT8,VT7</text><text x="856" y="2707">КТ815Б</text><text x="925" y="2707">КТ815А;П701;</text><text x="935" y="2723">КТ801А,Б;</text><text x="935" y="2740">КТ817А-Г</text>
<text x="786" y="2803">VT10,VT9</text><text x="858" y="2805">КТ805А</text><text x="918" y="2773">КТ805Б;П702;</text><text x="925" y="2788">КТ802А;КТ803А;</text><text x="925" y="2803">КТ808А</text>
</g>
<text x="457" y="2969" class="big" style="font-weight:bold">Рис.3 Расположение выводов транзисторов</text>
<text x="526" y="2993" class="big" style="font-weight:bold">и таблицы возможных замен</text>
</svg>
</body></html>
